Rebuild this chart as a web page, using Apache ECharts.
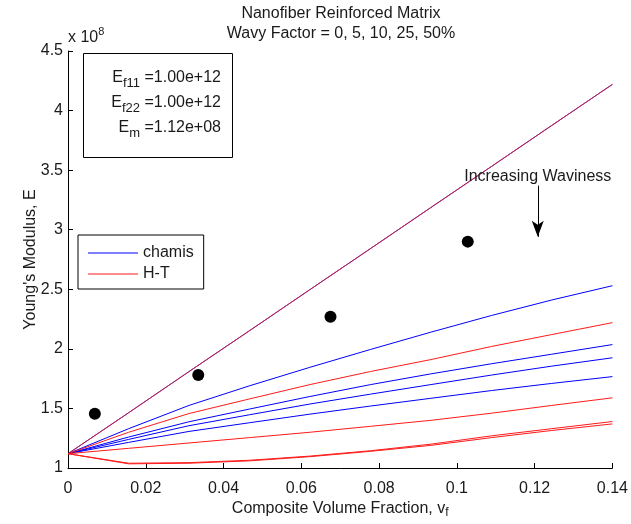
<!DOCTYPE html>
<html>
<head>
<meta charset="utf-8">
<script src="https://cdn.jsdelivr.net/npm/echarts@6/dist/echarts.min.js"></script>
<style>
  html, body { margin: 0; padding: 0; background: #fff; }
  #chart { width: 631px; height: 524px; }
</style>
</head>
<body>
<div id="chart"></div>
<script>
// volume fraction grid
const vf = [0, 0.0156, 0.0311, 0.0467, 0.0622, 0.0778, 0.0933, 0.1089, 0.1244, 0.14];

// chamis, wavy factor 0, 5, 10, 25, 50 % (x 1e8)
const chamis0 = [1.12, 1.464, 1.809, 2.153, 2.497, 2.842, 3.186, 3.531, 3.875, 4.22];
const chamis5 = [1.12, 1.33, 1.525, 1.69, 1.845, 1.995, 2.14, 2.28, 2.41, 2.53];
const chamis10 = [1.12, 1.26, 1.388, 1.495, 1.60, 1.70, 1.79, 1.875, 1.955, 2.036];
const chamis25 = [1.12, 1.24, 1.355, 1.447, 1.537, 1.62, 1.70, 1.78, 1.855, 1.925];
const chamis50 = [1.12, 1.215, 1.307, 1.38, 1.452, 1.52, 1.585, 1.65, 1.71, 1.767];

// Halpin-Tsai, same wavy factors
const ht0 = [1.12, 1.464, 1.809, 2.153, 2.497, 2.842, 3.186, 3.531, 3.875, 4.22];
const ht5 = [1.12, 1.30, 1.457, 1.58, 1.70, 1.81, 1.91, 2.02, 2.12, 2.22];
const ht10 = [1.12, 1.165, 1.21, 1.255, 1.30, 1.35, 1.40, 1.46, 1.525, 1.589];
const ht25 = [1.12, 1.04, 1.045, 1.065, 1.10, 1.145, 1.20, 1.27, 1.33, 1.39];
const ht50 = [1.12, 1.035, 1.04, 1.06, 1.095, 1.14, 1.19, 1.255, 1.315, 1.37];

// experimental points
const expVf = [0.0069, 0.0335, 0.0675, 0.1028];
const expE = [1.455, 1.78, 2.27, 2.90];

const xTicks = { min: 0, max: 0.14, interval: 0.02 };
const yTicks = { min: 1, max: 4.5, interval: 0.5 };

document.addEventListener('DOMContentLoaded', () => {
    const chartDom = document.getElementById('chart');
    const chart = echarts.init(chartDom, null, { renderer: 'canvas' });
    const font = '"Liberation Sans", Arial, Helvetica, sans-serif';
    const BLUE = '#0000ff', RED = '#ff1a1a', PURPLE = '#a8206e';
    const TXT = '#1a1a1a';

    const pairUp = ys => ys.map((y, i) => [vf[i], y]);
    const lineSeries = (name, ys, color) => ({
        name: name,
        type: 'line',
        data: pairUp(ys),
        symbol: 'none',
        lineStyle: { color: color, width: 1 },
        itemStyle: { color: color },
        silent: true,
        animation: false
    });

    // both models coincide at 0 waviness -> drawn in the overlap colour
    const series = [
        lineSeries('chamis', chamis0, PURPLE),
        lineSeries('chamis', chamis5, BLUE),
        lineSeries('chamis', chamis10, BLUE),
        lineSeries('chamis', chamis25, BLUE),
        lineSeries('chamis', chamis50, BLUE),
        lineSeries('H-T', ht0, PURPLE),
        lineSeries('H-T', ht5, RED),
        lineSeries('H-T', ht10, RED),
        lineSeries('H-T', ht25, RED),
        lineSeries('H-T', ht50, RED),
        {
            name: 'exp',
            type: 'scatter',
            data: expVf.map((x, i) => [x, expE[i]]),
            symbol: 'circle',
            symbolSize: 12,
            itemStyle: { color: '#000', opacity: 1 },
            silent: true,
            animation: false,
            markLine: {
                silent: true,
                animation: false,
                label: { show: false },
                lineStyle: { color: '#000', width: 1, type: 'solid', opacity: 1 },
                data: [[
                    { coord: [0.1208, 3.37], symbol: 'none' },
                    { coord: [0.1208, 2.94], symbol: 'arrow', symbolSize: [9, 16] }
                ]]
            }
        }
    ];

    const option = {
        backgroundColor: '#fff',
        animation: false,
        title: {
            text: 'Nanofiber Reinforced Matrix\nWavy Factor = 0, 5, 10, 25, 50%',
            left: 341,
            top: 4,
            textAlign: 'center',
            padding: 0,
            textStyle: { fontFamily: font, fontSize: 16, fontWeight: 'normal', color: TXT, lineHeight: 20 }
        },
        grid: { left: 68, right: 16, top: 51, bottom: 53 },
        legend: {
            orient: 'vertical',
            left: 78,
            top: 235,
            padding: [10, 10, 7, 10],
            itemGap: 5,
            itemWidth: 50,
            itemHeight: 1,
            icon: 'rect',
            borderColor: '#000',
            borderWidth: 1,
            backgroundColor: '#fff',
            selectedMode: false,
            textStyle: { fontFamily: font, fontSize: 16, color: TXT },
            data: [
                { name: 'chamis', itemStyle: { color: BLUE } },
                { name: 'H-T', itemStyle: { color: RED } }
            ]
        },
        xAxis: {
            type: 'value',
            min: xTicks.min,
            max: xTicks.max,
            interval: xTicks.interval,
            name: '{n|Composite Volume Fraction, v}{s|f}',
            nameLocation: 'middle',
            nameGap: 31,
            nameMoveOverlap: false,
            nameTextStyle: {
                fontFamily: font, color: TXT,
                rich: {
                    n: { fontFamily: font, fontSize: 16, color: TXT, lineHeight: 20 },
                    s: { fontFamily: font, fontSize: 12, color: TXT, lineHeight: 10, verticalAlign: 'bottom' }
                }
            },
            axisLine: { show: true, lineStyle: { color: '#000', width: 1 } },
            axisTick: { show: true, inside: true, length: 5, lineStyle: { color: '#000' } },
            axisLabel: {
                fontFamily: font, fontSize: 16, color: TXT, margin: 13,
                formatter: v => String(+v.toFixed(2))
            },
            splitLine: { show: false }
        },
        yAxis: {
            type: 'value',
            min: yTicks.min,
            max: yTicks.max,
            interval: yTicks.interval,
            name: "Young's Modulus, E",
            nameLocation: 'middle',
            nameGap: 29,
            nameMoveOverlap: false,
            nameTextStyle: { fontFamily: font, fontSize: 16, color: TXT },
            axisLine: { show: true, lineStyle: { color: '#000', width: 1 } },
            axisTick: { show: true, inside: true, length: 5, lineStyle: { color: '#000' } },
            axisLabel: {
                fontFamily: font, fontSize: 16, color: TXT, margin: 5,
                formatter: v => String(+v.toFixed(1))
            },
            splitLine: { show: false }
        },
        series: series
    };
    chart.setOption(option);

    // annotations placed from data coordinates
    const arrowText = chart.convertToPixel({ gridIndex: 0 }, [0.1208, 3.45]);
    chart.setOption({
        graphic: [
            {
                type: 'text',
                z: 100,
                style: {
                    x: 68, y: 26,
                    text: '{n|x 10}{sup|8}',
                    align: 'left',
                    verticalAlign: 'top',
                    rich: {
                        n: { fontFamily: font, fontSize: 16, fill: TXT, lineHeight: 24, verticalAlign: 'middle' },
                        sup: { fontFamily: font, fontSize: 11, fill: TXT, lineHeight: 10, verticalAlign: 'top' }
                    }
                }
            },
            {
                type: 'rect',
                z: 100,
                shape: { x: 83.5, y: 53.5, width: 149, height: 104 },
                style: { fill: '#fff', stroke: '#000', lineWidth: 1 }
            },
            {
                type: 'text',
                z: 101,
                style: {
                    x: 221, y: 65,
                    text: '{n|E}{s|f11}{n| =1.00e+12}\n{n|E}{s|f22}{n| =1.00e+12}\n{n|E}{s|m}{n| =1.12e+08}',
                    align: 'right',
                    verticalAlign: 'top',
                    rich: {
                        n: { fontFamily: font, fontSize: 16, fill: TXT, lineHeight: 25, verticalAlign: 'middle' },
                        s: { fontFamily: font, fontSize: 13, fill: TXT, lineHeight: 12, verticalAlign: 'bottom' }
                    }
                }
            },
            {
                type: 'text',
                z: 100,
                style: {
                    x: arrowText[0], y: arrowText[1],
                    text: 'Increasing Waviness',
                    align: 'center',
                    verticalAlign: 'middle',
                    font: '16px ' + font,
                    fill: TXT
                }
            }
        ]
    });
});
</script>
</body>
</html>
